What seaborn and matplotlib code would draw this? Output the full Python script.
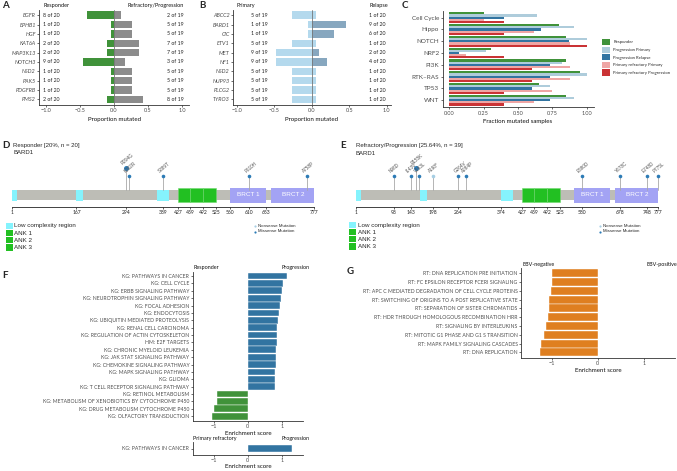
import numpy as np
import pandas as pd
import matplotlib
matplotlib.use('Agg')
import matplotlib.pyplot as plt
import seaborn as sns
from matplotlib.patches import Rectangle

# ---- values ----

# A: mutated samples per gene, responders (of 20) vs refractory/progression (of 19)
a_genes = ['EGFR', 'EPHB1', 'HGF', 'KAT6A', 'MAP3K13', 'NOTCH3', 'NSD2', 'PAK5', 'PDGFRB', 'PMS2']
a_resp = [8, 1, 1, 2, 2, 9, 1, 1, 1, 2]
a_prog = [2, 5, 5, 7, 7, 3, 5, 5, 5, 8]
a_n_resp, a_n_prog = 20, 19

# B: primary (of 19) vs relapse (of 20)
b_genes = ['ABCC2', 'BARD1', 'CIC', 'ETV1', 'MET', 'NF1', 'NSD2', 'NUP93', 'PLCG2', 'TYRO3']
b_prim = [5, 1, 1, 5, 9, 9, 5, 5, 5, 5]
b_rel = [1, 9, 6, 1, 2, 4, 1, 1, 1, 1]
b_rel_dark = [False, True, True, False, True, True, False, False, False, False]
b_n_prim, b_n_rel = 19, 20

# C: fraction of mutated samples per pathway
c_pathways = ['Cell Cycle', 'Hippo', 'NOTCH', 'NRF2', 'PI3K', 'RTK–RAS', 'TP53', 'WNT']
c_groups = ['Responder', 'Progression Primary', 'Progression Relapse',
            'Primary refractory Primary', 'Primary refractory Progression']
c_responder = [0.25, 0.80, 0.85, 0.30, 0.85, 0.95, 0.65, 0.85]
c_prog_primary = [0.64, 0.91, 1.00, 0.27, 0.82, 1.00, 0.73, 0.91]
c_prog_relapse = [0.40, 0.67, 0.87, 0.07, 0.73, 0.73, 0.60, 0.73]
c_ref_primary = [0.25, 0.62, 0.88, 0.12, 0.88, 0.88, 0.75, 0.62]
c_ref_prog = [0.40, 0.40, 1.00, 0.40, 0.60, 0.60, 0.40, 0.40]

# D/E: BARD1 protein domains
lcr_start = [1, 167, 374]
lcr_end = [15, 183, 405]
ank_names = ['ANK 1', 'ANK 2', 'ANK 3']
ank_start = [427, 459, 492]
ank_end = [459, 492, 525]
brct_names = ['BRCT 1', 'BRCT 2']
brct_start = [560, 667]
brct_end = [653, 777]
protein_len = 777

d_mut_pos = [294, 302, 389, 610, 758]
d_mut_label = ['R294G', 'K302R', 'S389T', 'P610H', 'A758P']
d_mut_type = ['Missense'] * 5
d_mut_count = [2, 1, 1, 1, 1]
d_ticks = [1, 167, 294, 389, 427, 459, 492, 525, 560, 610, 653, 777]

e_mut_pos = [98, 143, 155, 163, 198, 264, 284, 580, 678, 748, 775]
e_mut_label = ['N98D', 'I143V', 'R155K', 'V163L', 'A198*', 'G264V', 'A284P',
               'E580D', 'Y678C', 'E748D', 'P775L']
e_mut_type = ['Missense', 'Missense', 'Missense', 'Missense', 'Nonsense', 'Missense',
              'Missense', 'Missense', 'Missense', 'Missense', 'Missense']
e_mut_count = [1, 1, 2, 1, 1, 1, 1, 1, 1, 1, 1]
e_ticks = [1, 98, 143, 198, 264, 374, 427, 459, 492, 525, 580, 678, 748, 777]

# F: enrichment, responder vs progression
f_terms = ['KG: PATHWAYS IN CANCER', 'KG: CELL CYCLE', 'KG: ERBB SIGNALING PATHWAY',
           'KG: NEUROTROPHIN SIGNALING PATHWAY', 'KG: FOCAL ADHESION', 'KG: ENDOCYTOSIS',
           'KG: UBIQUITIN MEDIATED PROTEOLYSIS', 'KG: RENAL CELL CARCINOMA',
           'KG: REGULATION OF ACTIN CYTOSKELETON', 'HM: E2F TARGETS',
           'KG: CHRONIC MYELOID LEUKEMIA', 'KG: JAK STAT SIGNALING PATHWAY',
           'KG: CHEMOKINE SIGNALING PATHWAY', 'KG: MAPK SIGNALING PATHWAY', 'KG: GLIOMA',
           'KG: T CELL RECEPTOR SIGNALING PATHWAY', 'KG: RETINOL METABOLISM',
           'KG: METABOLISM OF XENOBIOTICS BY CYTOCHROME P450',
           'KG: DRUG METABOLISM CYTOCHROME P450', 'KG: OLFACTORY TRANSDUCTION']
f_scores = [1.15, 1.03, 1.02, 0.98, 0.94, 0.91, 0.90, 0.86, 0.86, 0.85,
            0.84, 0.82, 0.82, 0.81, 0.81, 0.81, -0.92, -0.92, -0.99, -1.06]
f2_terms = ['KG: PATHWAYS IN CANCER']
f2_scores = [1.30]

# G: enrichment, EBV-negative vs EBV-positive
g_terms = ['RT: DNA REPLICATION PRE INITIATION', 'RT: FC EPSILON RECEPTOR FCERI SIGNALING',
           'RT: APC C MEDIATED DEGRADATION OF CELL CYCLE PROTEINS',
           'RT: SWITCHING OF ORIGINS TO A POST REPLICATIVE STATE',
           'RT: SEPARATION OF SISTER CHROMATIDS', 'RT: HDR THROUGH HOMOLOGOUS RECOMBINATION HRR',
           'RT: SIGNALING BY INTERLEUKINS', 'RT: MITOTIC G1 PHASE AND G1 S TRANSITION',
           'RT: MAPK FAMILY SIGNALING CASCADES', 'RT: DNA REPLICATION']
g_scores = [-1.00, -1.00, -1.02, -1.05, -1.06, -1.08, -1.11, -1.16, -1.23, -1.24]

# ---- style ----
W, H = 677, 471
sns.set_theme(style='ticks')
plt.rcParams['font.family'] = ['Lato', 'DejaVu Sans']
plt.rcParams['axes.linewidth'] = 0.6

paired = sns.color_palette('Paired')
GREEN = paired[3]
BLUE = paired[1]
GREY = '#8c8c8c'
ORANGE = paired[7]
LIGHT_B = '#abdcf6'
DARK_B = '#7ea9c8'
c_colors = [paired[3], paired[0], paired[1], paired[4], paired[5]]

fig = plt.figure(figsize=(W / 100, H / 100), dpi=100)
fig.patch.set_facecolor('white')

# overlay in pixel units for letters, headers and legends
ov = fig.add_axes([0, 0, 1, 1])
ov.set_xlim(0, W)
ov.set_ylim(H, 0)
ov.axis('off')
ov.set_zorder(10)
ov.patch.set_alpha(0)


def px_axes(x0, y0, x1, y1):
    ax = fig.add_axes([x0 / W, 1 - y1 / H, (x1 - x0) / W, (y1 - y0) / H])
    ax.set_facecolor('none')
    return ax


def style(ax, xlabel, ysize=4.0, labelpad=2.5):
    sns.despine(ax=ax)
    for s in ['left', 'bottom']:
        ax.spines[s].set_color('#333333')
        ax.spines[s].set_linewidth(0.6)
    ax.tick_params(length=1.6, width=0.5, pad=0.8, labelsize=4.0, color='#333333',
                   labelcolor='#4d4d4d')
    ax.tick_params(axis='y', labelsize=ysize)
    ax.set_ylabel('')
    ax.set_xlabel(xlabel, fontsize=4.4, labelpad=labelpad, color='#111111')


def txt(x, y, s, size=4.0, **kw):
    ov.text(x, y, s, fontsize=size, va='center', ha='left', **kw)


for lab, x, y in [('A', 2, 6), ('B', 199, 5.5), ('C', 402, 5.5), ('D', 2, 145),
                  ('E', 340, 145), ('F', 2, 276), ('G', 347, 272)]:
    txt(x, y, lab, size=7, fontweight='bold')

# ---- A ----
ax_a = px_axes(39.2, 10, 188.8, 105)
a_df = pd.DataFrame({
    'gene': a_genes + a_genes,
    'prop': [-n / a_n_resp for n in a_resp] + [n / a_n_prog for n in a_prog],
    'group': ['Responder'] * len(a_genes) + ['Refractory/Progression'] * len(a_genes)})
sns.barplot(data=a_df, x='prop', y='gene', hue='group', order=a_genes, dodge=False,
            palette={'Responder': GREEN, 'Refractory/Progression': GREY},
            width=0.78, linewidth=0, errorbar=None, legend=False, ax=ax_a)
ax_a.axvline(0, color='#777777', lw=0.6, zorder=3)
ax_a.set_xlim(-1.1, 1.1)
ax_a.set_ylim(len(a_genes) - 0.4, -0.55)
ax_a.set_xticks([-1, -0.5, 0, 0.5, 1])
style(ax_a, 'Proportion mutated')
for lbl in ax_a.get_yticklabels():
    lbl.set_style('italic')
for i, (l, r) in enumerate(zip(a_resp, a_prog)):
    ax_a.text(-1.045, i, f'{l} of {a_n_resp}', fontsize=3.8, va='center', color='#222222')
    ax_a.text(0.775, i, f'{r} of {a_n_prog}', fontsize=3.8, va='center', color='#222222')
txt(43, 5, 'Responder', color='#111111')
txt(128, 5, 'Refractory/Progression', color='#111111')

# ---- B ----
ax_b = px_axes(233, 10, 390.5, 105)
b_df = pd.DataFrame({
    'gene': b_genes + b_genes,
    'prop': [-n / b_n_prim for n in b_prim] + [n / b_n_rel for n in b_rel],
    'group': ['Primary'] * len(b_genes) + ['Relapse dark' if d else 'Relapse' for d in b_rel_dark]})
sns.barplot(data=b_df, x='prop', y='gene', hue='group', order=b_genes, dodge=False,
            palette={'Primary': LIGHT_B, 'Relapse': LIGHT_B, 'Relapse dark': DARK_B},
            width=0.78, linewidth=0, errorbar=None, legend=False, ax=ax_b)
ax_b.axvline(0, color='#777777', lw=0.6, zorder=3)
ax_b.set_xlim(-1.05, 1.05)
ax_b.set_ylim(len(b_genes) - 0.4, -0.55)
ax_b.set_xticks([-1, -0.5, 0, 0.5, 1])
style(ax_b, 'Proportion mutated')
for lbl in ax_b.get_yticklabels():
    lbl.set_style('italic')
for i, (l, r) in enumerate(zip(b_prim, b_rel)):
    ax_b.text(-0.81, i, f'{l} of {b_n_prim}', fontsize=3.8, va='center', color='#222222')
    ax_b.text(0.76, i, f'{r} of {b_n_rel}', fontsize=3.8, va='center', color='#222222')
txt(236.5, 5, 'Primary', color='#111111')
txt(369, 5, 'Relapse', color='#111111')

# ---- C ----
ax_c = px_axes(442.5, 10.6, 593.5, 107.3)
c_df = pd.DataFrame({
    'pathway': c_pathways * len(c_groups),
    'fraction': c_responder + c_prog_primary + c_prog_relapse + c_ref_primary + c_ref_prog,
    'group': np.repeat(c_groups, len(c_pathways))})
sns.barplot(data=c_df, x='fraction', y='pathway', hue='group', order=c_pathways,
            hue_order=c_groups, palette=c_colors, width=0.92, linewidth=0,
            errorbar=None, ax=ax_c)
ax_c.set_xlim(-0.05, 1.05)
ax_c.set_ylim(len(c_pathways) - 0.4, -0.6)
ax_c.set_xticks([0, 0.25, 0.5, 0.75, 1])
style(ax_c, 'Fraction mutated samples', ysize=4.6)
sns.move_legend(ax_c, 'upper left', bbox_to_anchor=(602, 39), bbox_transform=ov.transData,
                frameon=False, title=None, fontsize=3.1, handlelength=1.85, handleheight=1.85,
                labelspacing=0.32, handletextpad=0.75, borderpad=0, borderaxespad=0)

# ---- D / E : BARD1 lollipops ----
AA_PX = 0.39
BACKBONE = '#bdbdb6'
CYAN = '#85f3fd'
ANK_GREEN = '#22c022'
LAVENDER = '#a3a3f4'
MUT_COL = {'Missense': '#2c7bb6', 'Nonsense': '#a6cee3'}


def draw_gene(ax, x0, x1, aa1_px, pos, labels, types, counts, ticks):
    ax.set_xlim(1 + (x0 - aa1_px) / AA_PX, 1 + (x1 - aa1_px) / AA_PX)
    ax.set_ylim(-23, 37)
    ax.add_patch(Rectangle((1, -5), protein_len - 1, 10, color=BACKBONE, lw=0))
    for s, e in zip(lcr_start, lcr_end):
        ax.add_patch(Rectangle((s, -5.5), e - s, 11, color=CYAN, lw=0))
    for s, e in zip(ank_start, ank_end):
        ax.add_patch(Rectangle((s, -7), e - s, 14, facecolor=ANK_GREEN,
                               edgecolor='#6fd86f', lw=0.4))
    for name, s, e in zip(brct_names, brct_start, brct_end):
        ax.add_patch(Rectangle((s, -7.5), e - s, 15, color=LAVENDER, lw=0))
        ax.text((s + e) / 2, 0, name, ha='center', va='center', fontsize=4.6,
                color='white', family=['Liberation Sans', 'DejaVu Sans'])
    for p, lab, t, c in zip(pos, labels, types, counts):
        top = 19 + 8 * (c - 1)
        ax.plot([p, p], [5, top], color='#a8a8a8', lw=0.6, zorder=2)
        ax.scatter([p], [top], s=(2.6 + 1.0 * (c - 1)) ** 2, color=MUT_COL[t], lw=0, zorder=3)
        ax.text(p - 6, top + 2.5, lab, rotation=40, rotation_mode='anchor', ha='left',
                va='bottom', fontsize=3.3, color='#555555',
                family=['Liberation Sans', 'DejaVu Sans'])
    for s in ['top', 'right', 'left']:
        ax.spines[s].set_visible(False)
    ax.spines['bottom'].set_position(('data', -12))
    ax.spines['bottom'].set_bounds(1, protein_len)
    ax.spines['bottom'].set_linewidth(0.6)
    ax.spines['bottom'].set_color('#222222')
    ax.set_yticks([])
    ax.set_xticks(ticks)
    ax.tick_params(axis='x', length=1.6, width=0.5, pad=0.8, labelsize=3.6,
                   labelcolor='#222222', color='#222222')


ax_d = px_axes(0, 158, 335, 218)
draw_gene(ax_d, 0, 335, 11.7, d_mut_pos, d_mut_label, d_mut_type, d_mut_count, d_ticks)
ax_e = px_axes(335, 158, 677, 218)
draw_gene(ax_e, 335, 677, 355.7, e_mut_pos, e_mut_label, e_mut_type, e_mut_count, e_ticks)

ff = ['Liberation Sans', 'DejaVu Sans']
txt(13.3, 146, 'Responder [20%, n = 20]', size=4.3, family=ff)
txt(13.3, 153, 'BARD1', size=4.3, family=ff)
txt(355.7, 146, 'Refractory/Progression [25.64%, n = 39]', size=4.3, family=ff)
txt(355.7, 153.3, 'BARD1', size=4.3, family=ff)

legend_names = ['Low complexity region'] + ank_names
legend_cols = [CYAN, ANK_GREEN, ANK_GREEN, ANK_GREEN]
for lx, ly in [(6, 226), (349, 225)]:
    for i, (name, col) in enumerate(zip(legend_names, legend_cols)):
        y = ly + i * 7.1
        ov.add_patch(Rectangle((lx, y - 3.4), 6.7, 6.7, color=col, lw=0))
        txt(lx + 8.5, y, name, size=4.5, family=ff)
for lx, ly in [(255, 226), (600, 226)]:
    for i, t in enumerate(['Nonsense', 'Missense']):
        ov.scatter([lx], [ly + i * 5.5], s=2.5, color=MUT_COL[t], lw=0)
        txt(lx + 2.8, ly + i * 5.5, f'{t} Mutation', size=3.2, family=ff)

# ---- F ----
ax_f = px_axes(192.7, 271.6, 303.3, 420.6)
f_df = pd.DataFrame({'term': f_terms, 'score': f_scores,
                     'side': ['Progression' if s > 0 else 'Responder' for s in f_scores]})
sns.barplot(data=f_df, x='score', y='term', hue='side', order=f_terms, dodge=False,
            palette={'Progression': BLUE, 'Responder': GREEN}, width=0.92,
            edgecolor='white', linewidth=0.3, errorbar=None, legend=False, ax=ax_f)
ax_f.set_xlim(-1.63, 1.64)
ax_f.set_ylim(len(f_terms) - 0.4, -0.6)
ax_f.set_xticks([-1, 0, 1])
style(ax_f, 'Enrichment score', ysize=3.7, labelpad=1.5)
txt(193.3, 267.3, 'Responder', size=3.9, color='#111111')
txt(281.7, 267.3, 'Progression', size=3.9, color='#111111')

ax_f2 = px_axes(192.7, 442, 303.3, 455)
f2_df = pd.DataFrame({'term': f2_terms, 'score': f2_scores})
sns.barplot(data=f2_df, x='score', y='term', color=BLUE, width=0.6,
            edgecolor='white', linewidth=0.3, errorbar=None, ax=ax_f2)
ax_f2.set_xlim(-1.63, 1.64)
ax_f2.set_ylim(0.6, -0.6)
ax_f2.set_xticks([-1, 0, 1])
style(ax_f2, 'Enrichment score', ysize=3.7, labelpad=0.8)
txt(193, 438.5, 'Primary refractory', size=3.9, color='#111111')
txt(282, 438.5, 'Progression', size=3.9, color='#111111')

# ---- G ----
ax_g = px_axes(521, 268, 675, 357.6)
g_df = pd.DataFrame({'term': g_terms, 'score': g_scores})
sns.barplot(data=g_df, x='score', y='term', color=ORANGE, width=0.92,
            edgecolor='white', linewidth=0.3, errorbar=None, ax=ax_g)
ax_g.set_xlim(-1.66, 1.67)
ax_g.set_ylim(len(g_terms) - 0.4, -0.6)
ax_g.set_xticks([-1, 0, 1])
style(ax_g, 'Enrichment score', ysize=3.7, labelpad=1.5)
txt(522.7, 264.3, 'EBV-negative', size=3.9, color='#111111')
txt(646.7, 264.3, 'EBV-positive', size=3.9, color='#111111')

fig.savefig('out.png', dpi=100)
